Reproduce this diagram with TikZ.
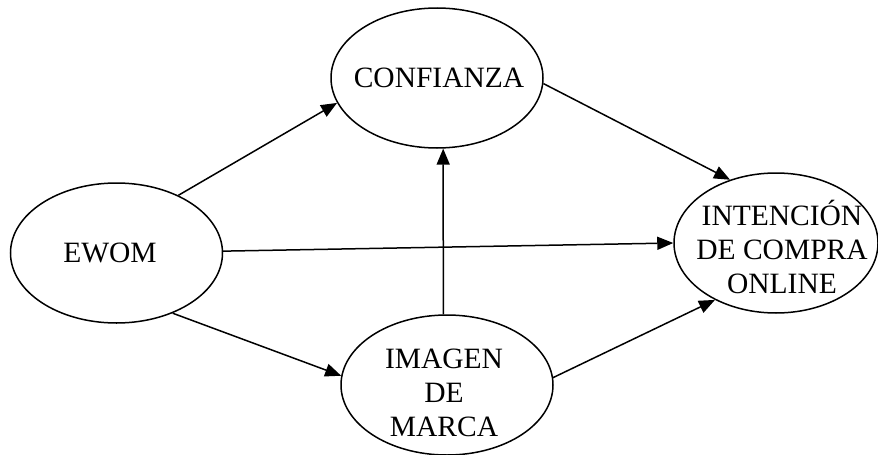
\documentclass[tikz,border=0pt]{standalone}
\usepackage{fontspec}
\setmainfont{Liberation Serif}
\usetikzlibrary{arrows.meta,shapes.geometric}
\begin{document}
\begin{tikzpicture}[x=1pt,y=-1pt,
  bubble/.style={draw=black, line width=1.5pt, ellipse, minimum width=212pt, minimum height=140pt, inner sep=0pt},
  lbl/.style={align=center, font=\fontsize{29.5}{34}\selectfont, inner sep=0pt},
  arr/.style={line width=1.5pt, -{Triangle[length=16pt,width=13pt]}}]
\useasboundingbox (0,0) rectangle (878,455);
\node[bubble] (ewom) at (116.5,253) {};
\node[bubble] (conf) at (437,78) {};
\node[bubble] (imag) at (447,385) {};
\node[bubble, minimum width=204pt] (int) at (776,243) {};
\node[lbl] (ewomT) at (110,253) {EWOM};
\node[lbl] (confT) at (439,78) {CONFIANZA};
\node[lbl] (imagT) at (444,393) {IMAGEN\\DE\\MARCA};
\node[lbl] (intT) at (782,247) {INTENCIÓN\\DE COMPRA\\ONLINE};
\draw[arr] (ewom.43) -- (conf.194);
\draw[arr] (ewom.1) -- (int.180);
\draw[arr] (ewom.-47) -- (imag.175);
\draw[arr] (conf.-3) -- (int.126);
\draw[arr] (imag.93) -- (conf.-85);
\draw[arr] (imag.4) -- (int.223);
\end{tikzpicture}
\end{document}
